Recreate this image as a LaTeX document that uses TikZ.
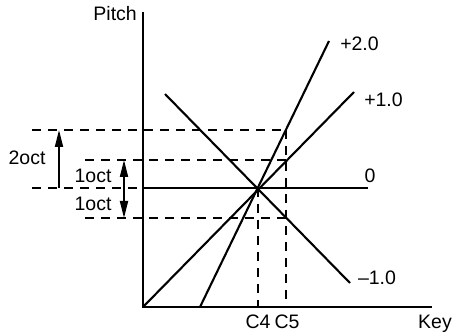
\documentclass[tikz,border=0pt]{standalone}
\usepackage{fontspec}
\setmainfont{Liberation Sans}
\usetikzlibrary{arrows.meta}
\begin{document}
\begin{tikzpicture}[x=1pt,y=-1pt,
  lbl/.style={inner sep=0pt,anchor=base,font=\fontsize{19.5}{21}\selectfont},
  solidline/.style={line width=2.1pt},
  guide/.style={line width=1.6pt,dash pattern=on 9pt off 7pt},
  octarrow/.style={line width=1.8pt,-{Triangle[length=17pt,width=8pt]}}]
\useasboundingbox (0,0) rectangle (453,334);
% key coordinates
\coordinate (O) at (143,307);
\coordinate (Ytop) at (143,12);
\coordinate (Xend) at (432,307);
\coordinate (C) at (258,188);
\coordinate (Zend) at (368,188);
\coordinate (P1s) at (143,307);
\coordinate (P1e) at (354,92);
\coordinate (P2s) at (200,307);
\coordinate (P2e) at (329,41);
\coordinate (M1s) at (165,94);
\coordinate (M1e) at (350,283);
% guide coordinates
\coordinate (G2l) at (32,130);
\coordinate (G2r) at (286,130);
\coordinate (G1l) at (85,160);
\coordinate (G1r) at (286,160);
\coordinate (G0l) at (32,188);
\coordinate (Gml) at (85,218);
\coordinate (Gmr) at (286,218);
\coordinate (C4b) at (258,307);
\coordinate (C5b) at (286,307);
\coordinate (A2b) at (59,188);
\coordinate (A2t) at (59,130);
\coordinate (A1m) at (124,188);
\coordinate (A1t) at (124,160);
\coordinate (A1b) at (124,218);
% dashed guides
\draw[guide] (G2l) -- (G2r);
\draw[guide] (G1l) -- (G1r);
\draw[guide] (G0l) -- (O |- G0l);
\draw[guide] (Gml) -- (Gmr);
\draw[guide] (C) -- (C4b);
\draw[guide] (G2r) -- (C5b);
% axes
\draw[solidline] (Ytop) -- (O) -- (Xend);
% curves
\draw[solidline] (O |- C) -- (Zend);
\draw[solidline] (P1s) -- (P1e);
\draw[solidline] (P2s) -- (P2e);
\draw[solidline] (M1s) -- (M1e);
% arrows
\draw[octarrow] (A2b) -- (A2t);
\draw[octarrow] (A1m) -- (A1t);
\draw[octarrow] (A1m) -- (A1b);
% labels
\node[lbl,anchor=base east] (pitch) at (137,21) {Pitch};
\node[lbl] (oct2) at (27,165) {2oct};
\node[lbl] (oct1u) at (93,183) {1oct};
\node[lbl] (oct1d) at (93,211) {1oct};
\node[lbl] (lp2) at (359.5,51) {+2.0};
\node[lbl] (lp1) at (383.5,107) {+1.0};
\node[lbl] (l0) at (370,183) {0};
\node[lbl] (lm1) at (377,284) {–1.0};
\node[lbl] (c4) at (258,328) {C4};
\node[lbl] (c5) at (287,328) {C5};
\node[lbl] (key) at (435,328) {Key};
\end{tikzpicture}
\end{document}
